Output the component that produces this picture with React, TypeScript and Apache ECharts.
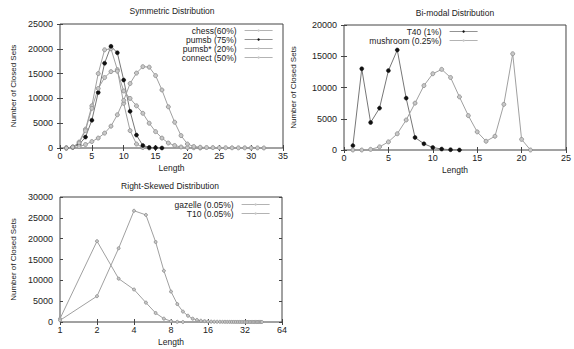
import React, { useEffect, useRef } from "react";
import * as echarts from "echarts";

// ---- Symmetric distribution ----
const chessLen = [1, 2, 3, 4, 5, 6, 7, 8, 9, 10, 11, 12, 13, 14];
const chess = [0, 100, 1200, 3800, 8500, 15000, 19800, 20000, 15800, 9000, 3500, 800, 100, 0];
const pumsbLen = [1, 2, 3, 4, 5, 6, 7, 8, 9, 10, 11, 12, 13, 14, 15, 16];
const pumsb = [0, 200, 700, 2200, 5600, 11200, 17100, 20500, 19200, 13700, 7400, 2600, 500, 100, 50, 0];
const pumsbStarLen = [1, 2, 3, 4, 5, 6, 7, 8, 9, 10, 11, 12, 13, 14, 15, 16, 17, 18, 19, 20, 21, 22];
const pumsbStar = [0, 200, 1000, 3500, 8000, 12000, 14200, 15400, 15500, 11500, 10000, 8500, 7000, 5000, 3300, 2000, 1000, 500, 200, 100, 50, 0];
const connectLen = [3, 4, 5, 6, 7, 8, 9, 10, 11, 12, 13, 14, 15, 16, 17, 18, 19, 20, 21, 22, 23, 24, 25, 26, 27, 28, 29, 30, 31, 32];
const connect = [300, 700, 1300, 2000, 3000, 4400, 6700, 9600, 13000, 15100, 16400, 16300, 14600, 11700, 8300, 5200, 2500, 800, 300, 150, 100, 80, 60, 50, 40, 30, 30, 20, 20, 10];

// ---- Bi-modal distribution ----
const t40Len = [1, 2, 3, 4, 5, 6, 7, 8, 9, 10, 11, 12, 13];
const t40 = [700, 13000, 4400, 6700, 12700, 16000, 8300, 2000, 1000, 400, 150, 50, 0];
const mushroomLen = [1, 2, 3, 4, 5, 6, 7, 8, 9, 10, 11, 12, 13, 14, 15, 16, 17, 18, 19, 20, 21];
const mushroom = [0, 0, 100, 500, 1300, 2600, 4800, 7500, 10300, 12200, 12900, 11600, 8500, 5500, 2900, 1400, 2200, 7300, 15400, 1700, 0];

// ---- Right-skewed distribution ----
const gazelleLen = [1, 2, 3, 4, 5, 6, 7, 8, 9, 10];
const gazelle = [800, 19400, 10400, 7800, 4650, 2150, 800, 200, 50, 0];
const t10Len = [1, 2, 3, 4, 5, 6, 7, 8, 9, 10, 11, 12, 13, 14, 15, 16, 17, 18, 19, 20, 21, 22, 23, 24, 25, 26, 27, 28, 29, 30, 31, 32, 33, 34, 35, 36, 37, 38, 39, 40, 41, 42, 43, 44];
const t10 = [400, 6200, 17700, 26700, 25700, 19200, 12300, 7300, 4300, 2500, 1500, 800, 500, 300, 200, 120, 90, 70, 60, 50, 40, 40, 30, 30, 30, 20, 20, 20, 20, 10, 10, 10, 10, 10, 10, 10, 10, 10, 10, 10, 10, 10, 10, 10];

const titles = ["Symmetric Distribution", "Bi-modal Distribution", "Right-Skewed Distribution"];
const yAxisName = "Number of Closed Sets";
const xAxisName = "Length";

const FONT = "'Liberation Sans', Arial, sans-serif";
const TXT = "#222";

function pairs(xs: number[], ys: number[]) {
  return xs.map((x, i) => [x, ys[i]]);
}

export default function App() {
  const ref = useRef<HTMLDivElement>(null);
  useEffect(() => {
    document.body.style.margin = "0";
    const chart = echarts.init(ref.current!, null, { renderer: "svg" });

    const grids = [
      { left: 60, top: 24, width: 223, height: 124 },
      { left: 344, top: 25, width: 225, height: 125 },
      { left: 60, top: 197, width: 222, height: 125 },
    ];
    const xSpecs: any[] = [
      { type: "value", min: 0, max: 35, interval: 5 },
      { type: "value", min: 0, max: 25, interval: 5 },
      { type: "log", logBase: 2, min: 1, max: 64 },
    ];
    const ySpecs: any[] = [
      { min: 0, max: 25000, interval: 5000 },
      { min: 0, max: 20000, interval: 5000 },
      { min: 0, max: 30000, interval: 5000 },
    ];
    const yNameGaps = [43, 47, 43];

    const tick = { show: true, inside: true, length: 3, lineStyle: { color: "#444" } };
    const xAxes: any[] = [];
    const yAxes: any[] = [];
    for (let g = 0; g < 3; g++) {
      xAxes.push({
        ...xSpecs[g],
        gridIndex: g,
        position: "bottom",
        name: xAxisName,
        nameLocation: "middle",
        nameGap: 15,
        nameTextStyle: { fontFamily: FONT, fontSize: 8.5, color: TXT },
        axisLine: { show: false },
        axisTick: tick,
        minorTick: { show: false },
        splitLine: { show: false },
        axisLabel: { fontFamily: FONT, fontSize: 9, color: TXT, margin: 3, formatter: (v: number) => String(v) },
      });
      yAxes.push({
        type: "value",
        ...ySpecs[g],
        gridIndex: g,
        position: "left",
        name: yAxisName,
        nameLocation: "middle",
        nameGap: yNameGaps[g],
        nameTextStyle: { fontFamily: FONT, fontSize: 8, color: TXT },
        axisLine: { show: false },
        axisTick: tick,
        splitLine: { show: false },
        axisLabel: { fontFamily: FONT, fontSize: 9, color: TXT, margin: 7, formatter: (v: number) => String(v) },
      });
    }
    for (let g = 0; g < 3; g++) {
      xAxes.push({
        ...xSpecs[g],
        gridIndex: g,
        position: "top",
        axisLine: { show: false },
        axisTick: tick,
        splitLine: { show: false },
        axisLabel: { show: false },
      });
      yAxes.push({
        type: "value",
        ...ySpecs[g],
        gridIndex: g,
        position: "right",
        axisLine: { show: false },
        axisTick: tick,
        splitLine: { show: false },
        axisLabel: { show: false },
      });
    }

    const mk = (name: string, data: number[][], g: number, dark: boolean, size = 4) => ({
      name,
      type: "line",
      xAxisIndex: g,
      yAxisIndex: g,
      data,
      symbol: "circle",
      symbolSize: size,
      lineStyle: { color: dark ? "#777" : "#a0a0a0", width: 1 },
      itemStyle: dark
        ? { color: "#111", borderColor: "#111", borderWidth: 0.5 }
        : { color: "#c8c8c8", borderColor: "#8a8a8a", borderWidth: 0.8 },
      emphasis: { disabled: true },
    });

    const series = [
      mk("chess(60%)", pairs(chessLen, chess), 0, false),
      mk("pumsb (75%)", pairs(pumsbLen, pumsb), 0, true),
      mk("pumsb* (20%)", pairs(pumsbStarLen, pumsbStar), 0, false),
      mk("connect (50%)", pairs(connectLen, connect), 0, false),
      mk("T40 (1%)", pairs(t40Len, t40), 1, true),
      mk("mushroom (0.25%)", pairs(mushroomLen, mushroom), 1, false),
      mk("gazelle (0.05%)", pairs(gazelleLen, gazelle), 2, false, 3),
      mk("T10 (0.05%)", pairs(t10Len, t10), 2, false, 3),
    ];

    const legendBase = {
      orient: "vertical",
      align: "right",
      itemWidth: 28,
      itemHeight: 3,
      itemGap: 0,
      itemStyle: { borderWidth: 0 },
      lineStyle: { width: 0.8 },
      textStyle: { fontFamily: FONT, fontSize: 8.5, lineHeight: 7.8, color: TXT, padding: [0, 3, 0, 0] },
      padding: 0,
      selectedMode: false,
    };

    chart.setOption({
      animation: false,
      grid: grids.map((gr) => ({ ...gr, show: true, borderColor: "#444", borderWidth: 1, backgroundColor: "transparent", containLabel: false })),
      title: [
        { text: titles[0], left: 172, top: 6, textAlign: "center" },
        { text: titles[1], left: 455, top: 8, textAlign: "center" },
        { text: titles[2], left: 170, top: 181, textAlign: "center" },
      ].map((t) => ({ ...t, padding: 0, textStyle: { fontFamily: FONT, fontSize: 8.5, fontWeight: "normal", color: TXT } })),
      legend: [
        { ...legendBase, data: ["chess(60%)", "pumsb (75%)", "pumsb* (20%)", "connect (50%)"], right: 301, top: 26 },
        { ...legendBase, data: ["T40 (1%)", "mushroom (0.25%)"], right: 96, top: 27 },
        { ...legendBase, data: ["gazelle (0.05%)", "T10 (0.05%)"], right: 304, top: 200 },
      ],
      xAxis: xAxes,
      yAxis: yAxes,
      series,
    });
    return () => chart.dispose();
  }, []);
  return <div ref={ref} style={{ width: 574, height: 349 }} />;
}
